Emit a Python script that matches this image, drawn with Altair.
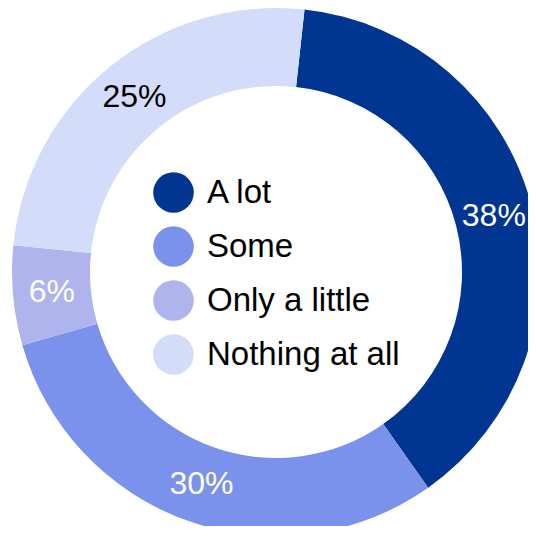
import altair as alt
import pandas as pd
import math

categories = ["A lot", "Some", "Only a little", "Nothing at all"]
values = [38.5, 30.3, 6.1, 25.1]
labels = ["38%", "30%", "6%", "25%"]
colors = ["#003591", "#7A92EB", "#AFB4EC", "#D3DCF8"]

df = pd.DataFrame({"cat": categories, "val": values, "lab": labels,
                   "idx": list(range(len(categories)))})

start = math.radians(6.2)
theta_scale = alt.Scale(range=[start, start + 2 * math.pi])
FONT = "Liberation Sans"

base = alt.Chart(df).encode(
    theta=alt.Theta("val:Q", stack=True, scale=theta_scale),
    order=alt.Order("idx:Q"),
    x=alt.value(268),
    y=alt.value(264),
)

arcs = base.mark_arc(outerRadius=264, innerRadius=186).encode(
    color=alt.Color(
        "cat:N",
        sort=categories,
        scale=alt.Scale(domain=categories, range=colors),
        legend=alt.Legend(
            title=None,
            orient="none",
            legendX=145,
            legendY=164,
            direction="vertical",
            symbolType="circle",
            symbolSize=1650,
            symbolStrokeWidth=0,
            symbolOpacity=1,
            labelFontSize=33,
            labelFont=FONT,
            labelColor="black",
            labelOffset=13,
            rowPadding=13,
            labelLimit=400,
        ),
    )
)

text = base.mark_text(radius=225, fontSize=32, font=FONT).encode(
    text="lab:N",
    color=alt.condition(alt.datum.cat == "Nothing at all",
                        alt.value("black"), alt.value("white")),
)

chart = (arcs + text).properties(
    width=520, height=518, padding=0,
    autosize=alt.AutoSizeParams(type="none"),
).configure_view(stroke=None)

chart.save("out.html", embed_options={"renderer": "svg", "actions": False})
